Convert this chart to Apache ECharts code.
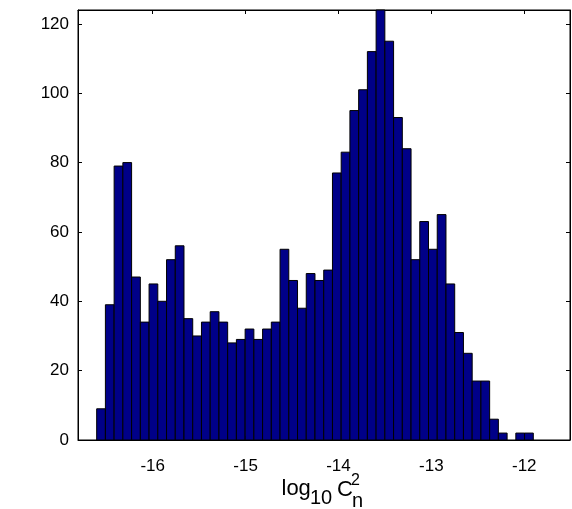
<!DOCTYPE html>
<html>
<head>
<meta charset="utf-8">
<script src="https://cdn.jsdelivr.net/npm/echarts@6/dist/echarts.min.js"></script>
<style>
  html, body { margin: 0; padding: 0; background: #fff; }
  #chart { width: 572px; height: 509px; }
</style>
</head>
<body>
<div id="chart"></div>
<script>
// Histogram of log10 Cn^2: 50 equal-width bins
const binStart = -16.603;
const binWidth = 0.094;
const counts = [
  9, 39, 79, 80, 47, 34, 45, 40, 52, 56,
  35, 30, 34, 37, 34, 28, 29, 32, 29, 32,
  34, 55, 46, 38, 48, 46, 49, 77, 83, 95,
  101, 112, 124, 115, 93, 84, 52, 63, 55, 65,
  45, 31, 25, 17, 17, 6, 2, 0, 2, 2
];
const xTicks = [-16, -15, -14, -13, -12];
const yTicks = [0, 20, 40, 60, 80, 100, 120];
const xRange = [-16.804, -11.508];
const yRange = [0, 124];

const bins = counts.map((c, i) => [binStart + i * binWidth, binStart + (i + 1) * binWidth, c]);

const FONT = '"Liberation Sans", Arial, Helvetica, sans-serif';
const axisLine = { show: true, onZero: false, lineStyle: { color: '#000', width: 1 } };

const chart = echarts.init(document.getElementById('chart'), null, { renderer: 'canvas' });
chart.setOption({
  animation: false,
  backgroundColor: '#fff',
  grid: { left: 78, right: 2, top: 10, bottom: 69, containLabel: false,
          show: true, borderColor: '#000', borderWidth: 1, backgroundColor: 'transparent' },
  xAxis: [
    {
      type: 'value', position: 'bottom', min: xRange[0], max: xRange[1],
      axisLine, splitLine: { show: false },
      axisTick: { show: true, inside: true, length: 4, customValues: xTicks, lineStyle: { color: '#000' } },
      axisLabel: { show: true, customValues: xTicks, margin: 18, fontFamily: FONT, fontSize: 17, color: '#000',
                   formatter: v => String(Math.round(v)) }
    },
    {
      type: 'value', position: 'top', min: xRange[0], max: xRange[1],
      axisLine, splitLine: { show: false },
      axisTick: { show: true, inside: true, length: 4, customValues: xTicks, lineStyle: { color: '#000' } },
      axisLabel: { show: false }
    }
  ],
  yAxis: [
    {
      type: 'value', position: 'left', min: yRange[0], max: yRange[1], interval: 20,
      axisLine, splitLine: { show: false },
      axisTick: { show: true, inside: true, length: 4, customValues: yTicks, lineStyle: { color: '#000' } },
      axisLabel: { show: true, customValues: yTicks, margin: 9, fontFamily: FONT, fontSize: 17, color: '#000' }
    },
    {
      type: 'value', position: 'right', min: yRange[0], max: yRange[1], interval: 20,
      axisLine, splitLine: { show: false },
      axisTick: { show: true, inside: true, length: 4, customValues: yTicks, lineStyle: { color: '#000' } },
      axisLabel: { show: false }
    }
  ],
  series: [{
    type: 'custom',
    xAxisIndex: 0,
    yAxisIndex: 0,
    data: bins,
    encode: { x: [0, 1], y: 2 },
    renderItem: function (params, api) {
      const c = api.value(2);
      if (!c) return null;
      const p0 = api.coord([api.value(0), c]);
      const p1 = api.coord([api.value(1), 0]);
      return {
        type: 'rect',
        shape: { x: p0[0], y: p0[1], width: p1[0] - p0[0], height: p1[1] - p0[1] },
        style: { fill: '#000088', stroke: '#000', lineWidth: 1 }
      };
    }
  }],
  // axis title: log10 Cn^2 with stacked sub/superscript
  graphic: [
    { type: 'text', left: 281.5, top: 478, style: { text: 'log', font: '22px ' + FONT, fill: '#000' } },
    { type: 'text', left: 310, top: 488, style: { text: '10', font: '20px ' + FONT, fill: '#000' } },
    { type: 'text', left: 337, top: 478.5, style: { text: 'C', font: '22px ' + FONT, fill: '#000' } },
    { type: 'text', left: 351, top: 473, style: { text: '2', font: '16px ' + FONT, fill: '#000' } },
    { type: 'text', left: 352, top: 491, style: { text: 'n', font: '20px ' + FONT, fill: '#000' } }
  ]
});
</script>
</body>
</html>
